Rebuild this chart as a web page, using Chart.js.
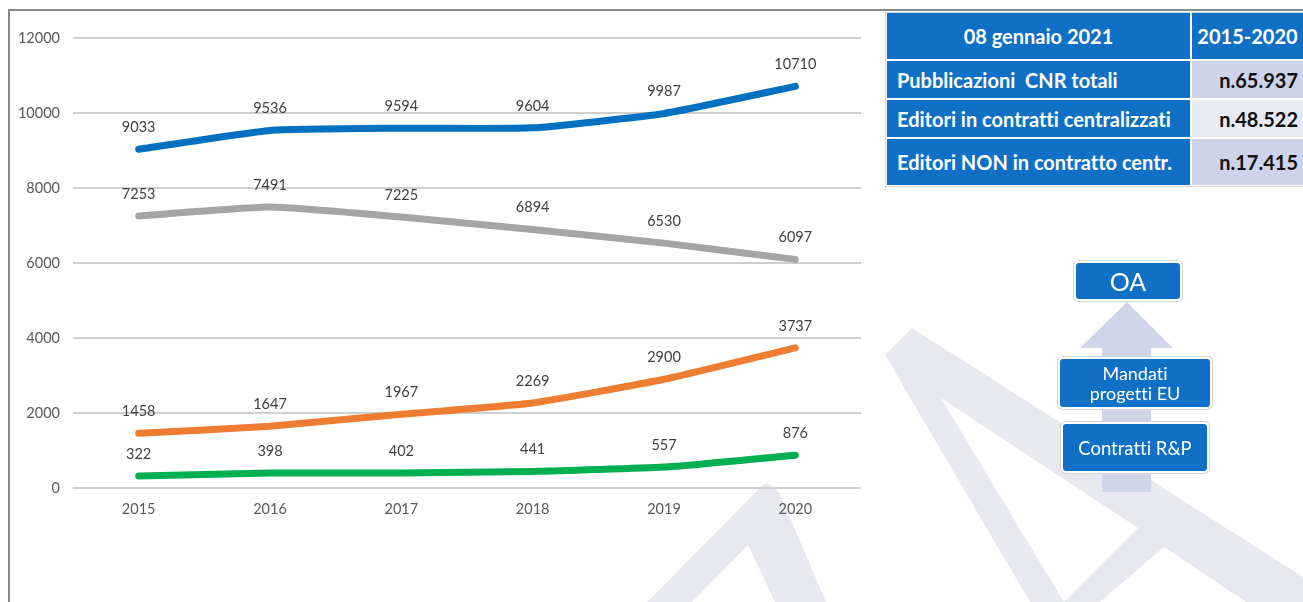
<!DOCTYPE html>
<html><head><meta charset="utf-8">
<script src="https://cdn.jsdelivr.net/npm/chart.js@4/dist/chart.umd.min.js"></script>
<style>
html,body{margin:0;padding:0;background:#fff;}
body{width:1303px;height:602px;position:relative;overflow:hidden;font-family:Lato,"Open Sans",sans-serif;font-variant-ligatures:none;font-feature-settings:"liga" 0,"clig" 0;}
#wm{position:absolute;left:0;top:0;}
#chart{position:absolute;left:0;top:0;}
.frameTop{position:absolute;left:8px;top:9px;width:1295px;height:2px;background:#8a8a8a;}
.frameLeft{position:absolute;left:8px;top:9px;width:2px;height:593px;background:#8a8a8a;}
.tbl{position:absolute;left:885px;top:12px;width:420px;height:175px;border:1px solid #d6d6d6;box-sizing:border-box;}
.cell{position:absolute;box-sizing:border-box;display:flex;align-items:center;font-weight:bold;white-space:pre;}
.blue{background:#1070C6;color:#fff;}
.hdr{justify-content:center;font-size:20px;}
.lab{padding-left:10px;font-size:20px;}
.num{justify-content:flex-end;padding-right:5px;color:#111;font-size:20px;}
.box{position:absolute;box-sizing:border-box;background:#1070C6;color:#fff;border:2px solid #fff;border-radius:5px;box-shadow:0 0 0 1px #d4d4d4;display:flex;flex-direction:column;align-items:center;justify-content:center;text-align:center;}
</style>
</head><body>
<svg id="wm" width="1303" height="602">
  <polygon fill="#E8E9EE" points="1030,602 885,355 912,328 1303,577 1303,602 1246,602 1164,547 1100,602 1064,602 1138,528 941,398 1064,602"/>
  <polygon fill="#E8E9EE" points="647,602 766,482 779,492 826,602 775,602 748,545 692,602"/>
</svg>
<canvas id="chart" width="880" height="602"></canvas>
<div class="frameTop"></div><div class="frameLeft"></div>

<div class="tbl"></div>
<div class="cell blue hdr" style="left:887px;top:13px;width:303px;height:46px;">08 gennaio 2021</div>
<div class="cell blue hdr" style="left:1192px;top:13px;width:111px;height:46px;">2015-2020</div>
<div class="cell blue lab" style="left:887px;top:61px;width:303px;height:37px;">Pubblicazioni  CNR totali</div>
<div class="cell num" style="left:1192px;top:61px;width:111px;height:37px;background:#CDD4EA;">n.65.937</div>
<div class="cell blue lab" style="left:887px;top:100px;width:303px;height:37px;">Editori in contratti centralizzati</div>
<div class="cell num" style="left:1192px;top:100px;width:111px;height:37px;background:#E8EBF5;">n.48.522</div>
<div class="cell blue lab" style="left:887px;top:139px;width:303px;height:46px;">Editori NON in contratto centr.</div>
<div class="cell num" style="left:1192px;top:139px;width:111px;height:46px;background:#CDD4EA;">n.17.415</div>

<svg style="position:absolute;left:0;top:0;" width="1303" height="602">
  <polygon fill="#CFD5E9" points="1127,302 1173,348 1151,348 1151,492 1102,492 1102,348 1080,348"/>
</svg>
<div class="box" style="left:1074px;top:261px;width:108px;height:40px;font-size:25px;">OA</div>
<div class="box" style="left:1058px;top:357px;width:154px;height:52px;font-size:18px;line-height:20px;"><div>Mandati</div><div>progetti EU</div></div>
<div class="box" style="left:1061px;top:422px;width:148px;height:51px;font-size:18.5px;">Contratti R&amp;P</div>

<script>
const years = ['2015', '2016', '2017', '2018', '2019', '2020'];
const pubblicazioniTotali = [9033, 9536, 9594, 9604, 9987, 10710];
const editoriNonContratto = [7253, 7491, 7225, 6894, 6530, 6097];
const contrattiRP = [1458, 1647, 1967, 2269, 2900, 3737];
const mandatiEU = [322, 398, 402, 441, 557, 876];
const yMin = 0, yMax = 12000, yStep = 2000;

const labelPlugin = {
  id: 'valueLabels',
  afterDatasetsDraw(chart) {
    const ctx = chart.ctx;
    ctx.save();
    ctx.font = '14.5px Lato';
    ctx.fillStyle = '#404040';
    ctx.textAlign = 'center';
    ctx.textBaseline = 'middle';
    chart.data.datasets.forEach((ds, i) => {
      chart.getDatasetMeta(i).data.forEach((pt, j) => {
        ctx.fillText(String(ds.data[j]), pt.x, pt.y - 22);
      });
    });
    ctx.restore();
  }
};

function ds(label, data, color) {
  return {label, data, borderColor: color, backgroundColor: color, borderWidth: 7,
    borderCapStyle: 'round', borderJoinStyle: 'round', pointRadius: 0, tension: 0.15, fill: false};
}

new Chart(document.getElementById('chart'), {
  type: 'line',
  data: {
    labels: years,
    datasets: [
      ds('Pubblicazioni CNR totali', pubblicazioniTotali, '#0070C0'),
      ds('Editori NON in contratto centr.', editoriNonContratto, '#A5A5A5'),
      ds('Contratti R&P', contrattiRP, '#ED7D31'),
      ds('Mandati progetti EU', mandatiEU, '#00B050')
    ]
  },
  options: {
    responsive: false,
    devicePixelRatio: 1,
    animation: false,
    layout: {padding: {top: 38, right: 19, left: 0, bottom: 0}},
    plugins: {legend: {display: false}, tooltip: {enabled: false}},
    scales: {
      x: {
        offset: true,
        grid: {display: false},
        border: {display: false},
        ticks: {color: '#595959', font: {family: 'Lato', size: 14.5}, padding: 5},
        afterFit(s) { s.height = 114; }
      },
      y: {
        min: yMin, max: yMax,
        ticks: {stepSize: yStep, color: '#595959', font: {family: 'Lato', size: 14.5}, padding: 13,
          callback: v => String(v)},
        grid: {color: '#CFCFCF', lineWidth: 2, drawTicks: false},
        border: {display: false},
        afterFit(s) { s.width = 73; }
      }
    }
  },
  plugins: [labelPlugin]
});
</script>
</body></html>
